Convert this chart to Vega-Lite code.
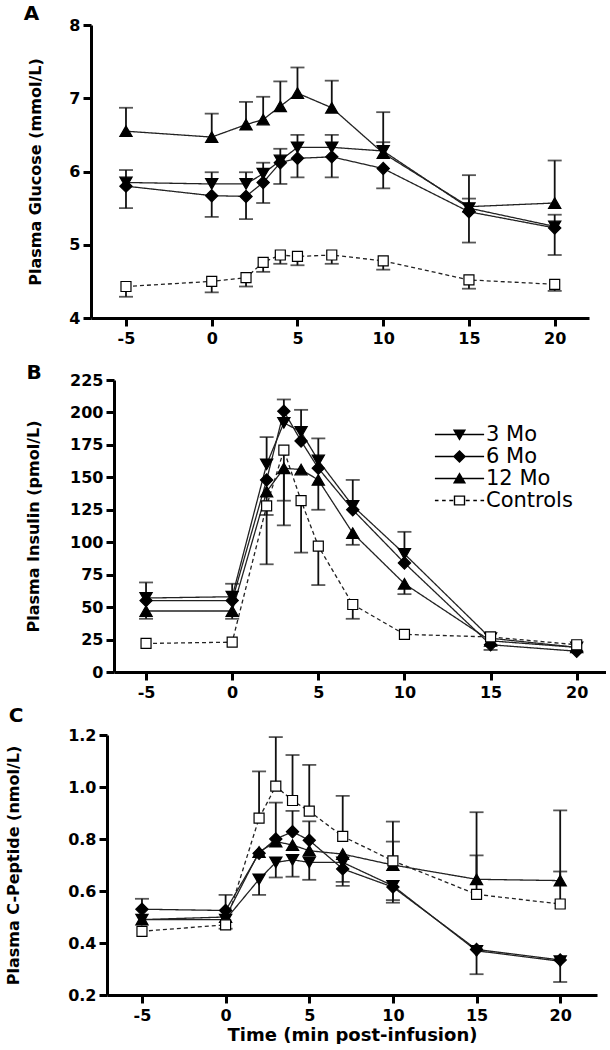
{
  "$schema": "https://vega.github.io/schema/vega-lite/v6.json",
  "padding": {"left": 5, "top": 4, "right": 0, "bottom": 0},
  "background": "white",
  "datasets": {
    "glucose": [
      {"t": -5, "g": "3 Mo", "v": 5.85, "e": 6.02}, {"t": 0, "g": "3 Mo", "v": 5.83, "e": 5.99}, {"t": 2, "g": "3 Mo", "v": 5.83, "e": 5.99}, {"t": 3, "g": "3 Mo", "v": 5.97, "e": 6.12}, {"t": 4, "g": "3 Mo", "v": 6.15, "e": 6.31}, {"t": 5, "g": "3 Mo", "v": 6.33, "e": 6.5}, {"t": 7, "g": "3 Mo", "v": 6.33, "e": 6.5}, {"t": 10, "g": "3 Mo", "v": 6.28, "e": 6.4}, {"t": 15, "g": "3 Mo", "v": 5.5, "e": 5.63}, {"t": 20, "g": "3 Mo", "v": 5.25, "e": 5.41},
      {"t": -5, "g": "6 Mo", "v": 5.8, "e": 5.5}, {"t": 0, "g": "6 Mo", "v": 5.67, "e": 5.38}, {"t": 2, "g": "6 Mo", "v": 5.66, "e": 5.35}, {"t": 3, "g": "6 Mo", "v": 5.85, "e": 5.57}, {"t": 4, "g": "6 Mo", "v": 6.12, "e": 5.83}, {"t": 5, "g": "6 Mo", "v": 6.18, "e": 5.92}, {"t": 7, "g": "6 Mo", "v": 6.2, "e": 5.92}, {"t": 10, "g": "6 Mo", "v": 6.04, "e": 5.77}, {"t": 15, "g": "6 Mo", "v": 5.45, "e": 5.03}, {"t": 20, "g": "6 Mo", "v": 5.23, "e": 4.86},
      {"t": -5, "g": "12 Mo", "v": 6.55, "e": 6.87}, {"t": 0, "g": "12 Mo", "v": 6.47, "e": 6.79}, {"t": 2, "g": "12 Mo", "v": 6.64, "e": 6.95}, {"t": 3, "g": "12 Mo", "v": 6.71, "e": 7.02}, {"t": 4, "g": "12 Mo", "v": 6.89, "e": 7.23}, {"t": 5, "g": "12 Mo", "v": 7.07, "e": 7.42}, {"t": 7, "g": "12 Mo", "v": 6.87, "e": 7.24}, {"t": 10, "g": "12 Mo", "v": 6.25, "e": 6.81}, {"t": 15, "g": "12 Mo", "v": 5.52, "e": 5.95}, {"t": 20, "g": "12 Mo", "v": 5.57, "e": 6.15},
      {"t": -5, "g": "Controls", "v": 4.43, "e": 4.29}, {"t": 0, "g": "Controls", "v": 4.5, "e": 4.35}, {"t": 2, "g": "Controls", "v": 4.55, "e": 4.43}, {"t": 3, "g": "Controls", "v": 4.76, "e": 4.63}, {"t": 4, "g": "Controls", "v": 4.86, "e": 4.74}, {"t": 5, "g": "Controls", "v": 4.84, "e": 4.72}, {"t": 7, "g": "Controls", "v": 4.86, "e": 4.74}, {"t": 10, "g": "Controls", "v": 4.78, "e": 4.66}, {"t": 15, "g": "Controls", "v": 4.52, "e": 4.4}, {"t": 20, "g": "Controls", "v": 4.46, "e": 4.37}
    ],
    "insulin": [
      {"t": -5, "g": "3 Mo", "v": 57, "e": 69}, {"t": 0, "g": "3 Mo", "v": 58, "e": 68}, {"t": 2, "g": "3 Mo", "v": 160, "e": 181}, {"t": 3, "g": "3 Mo", "v": 192, "e": null}, {"t": 4, "g": "3 Mo", "v": 185, "e": 202}, {"t": 5, "g": "3 Mo", "v": 163, "e": 180}, {"t": 7, "g": "3 Mo", "v": 128, "e": 148}, {"t": 10, "g": "3 Mo", "v": 91, "e": 108}, {"t": 15, "g": "3 Mo", "v": 26, "e": null}, {"t": 20, "g": "3 Mo", "v": 19, "e": null},
      {"t": -5, "g": "6 Mo", "v": 55, "e": null}, {"t": 0, "g": "6 Mo", "v": 55, "e": null}, {"t": 2, "g": "6 Mo", "v": 148, "e": null}, {"t": 3, "g": "6 Mo", "v": 201, "e": 210}, {"t": 4, "g": "6 Mo", "v": 178, "e": null}, {"t": 5, "g": "6 Mo", "v": 157, "e": null}, {"t": 7, "g": "6 Mo", "v": 125, "e": null}, {"t": 10, "g": "6 Mo", "v": 84, "e": null}, {"t": 15, "g": "6 Mo", "v": 21, "e": 17}, {"t": 20, "g": "6 Mo", "v": 16, "e": null},
      {"t": -5, "g": "12 Mo", "v": 47, "e": 41}, {"t": 0, "g": "12 Mo", "v": 47, "e": 41}, {"t": 2, "g": "12 Mo", "v": 139, "e": 121}, {"t": 3, "g": "12 Mo", "v": 157, "e": 132}, {"t": 4, "g": "12 Mo", "v": 156, "e": null}, {"t": 5, "g": "12 Mo", "v": 148, "e": 125}, {"t": 7, "g": "12 Mo", "v": 107, "e": 98}, {"t": 10, "g": "12 Mo", "v": 68, "e": 60}, {"t": 15, "g": "12 Mo", "v": 24, "e": null}, {"t": 20, "g": "12 Mo", "v": 19, "e": null},
      {"t": -5, "g": "Controls", "v": 22, "e": null}, {"t": 0, "g": "Controls", "v": 23, "e": null}, {"t": 2, "g": "Controls", "v": 128, "e": 83}, {"t": 3, "g": "Controls", "v": 171, "e": 113}, {"t": 4, "g": "Controls", "v": 132, "e": 92}, {"t": 5, "g": "Controls", "v": 97, "e": 67}, {"t": 7, "g": "Controls", "v": 52, "e": 41}, {"t": 10, "g": "Controls", "v": 29, "e": null}, {"t": 15, "g": "Controls", "v": 27, "e": null}, {"t": 20, "g": "Controls", "v": 21, "e": null}
    ],
    "cpep": [
      {"t": -5, "g": "6 Mo", "v": 0.53, "e": 0.57}, {"t": 0, "g": "6 Mo", "v": 0.525, "e": 0.585}, {"t": 2, "g": "6 Mo", "v": 0.745, "e": null}, {"t": 3, "g": "6 Mo", "v": 0.8, "e": 0.94}, {"t": 4, "g": "6 Mo", "v": 0.828, "e": 0.908}, {"t": 5, "g": "6 Mo", "v": 0.795, "e": null}, {"t": 7, "g": "6 Mo", "v": 0.685, "e": 0.635}, {"t": 10, "g": "6 Mo", "v": 0.615, "e": 0.565}, {"t": 15, "g": "6 Mo", "v": 0.375, "e": null}, {"t": 20, "g": "6 Mo", "v": 0.335, "e": null},
      {"t": -5, "g": "3 Mo", "v": 0.49, "e": null}, {"t": 0, "g": "3 Mo", "v": 0.49, "e": null}, {"t": 2, "g": "3 Mo", "v": 0.645, "e": 0.585}, {"t": 3, "g": "3 Mo", "v": 0.71, "e": 0.652}, {"t": 4, "g": "3 Mo", "v": 0.72, "e": 0.655}, {"t": 5, "g": "3 Mo", "v": 0.71, "e": 0.643}, {"t": 7, "g": "3 Mo", "v": 0.71, "e": 0.62}, {"t": 10, "g": "3 Mo", "v": 0.62, "e": 0.555}, {"t": 15, "g": "3 Mo", "v": 0.37, "e": 0.28}, {"t": 20, "g": "3 Mo", "v": 0.33, "e": 0.25},
      {"t": -5, "g": "12 Mo", "v": 0.49, "e": null}, {"t": 0, "g": "12 Mo", "v": 0.5, "e": null}, {"t": 2, "g": "12 Mo", "v": 0.75, "e": null}, {"t": 3, "g": "12 Mo", "v": 0.79, "e": null}, {"t": 4, "g": "12 Mo", "v": 0.777, "e": null}, {"t": 5, "g": "12 Mo", "v": 0.755, "e": 0.868}, {"t": 7, "g": "12 Mo", "v": 0.742, "e": null}, {"t": 10, "g": "12 Mo", "v": 0.7, "e": 0.867}, {"t": 15, "g": "12 Mo", "v": 0.645, "e": 0.903}, {"t": 20, "g": "12 Mo", "v": 0.64, "e": 0.91},
      {"t": -5, "g": "Controls", "v": 0.445, "e": null}, {"t": 0, "g": "Controls", "v": 0.47, "e": 0.455}, {"t": 2, "g": "Controls", "v": 0.88, "e": 1.06}, {"t": 3, "g": "Controls", "v": 1.003, "e": 1.192}, {"t": 4, "g": "Controls", "v": 0.948, "e": 1.123}, {"t": 5, "g": "Controls", "v": 0.907, "e": 1.085}, {"t": 7, "g": "Controls", "v": 0.81, "e": 0.966}, {"t": 10, "g": "Controls", "v": 0.716, "e": 0.79}, {"t": 15, "g": "Controls", "v": 0.587, "e": 0.737}, {"t": 20, "g": "Controls", "v": 0.55, "e": 0.675}
    ]
  },
  "spacing": 17,
  "resolve": {"scale": {"shape": "independent"}, "legend": {"shape": "independent"}},
  "vconcat": [
    {
      "width": 498, "height": 293,
      "data": {"name": "glucose"},
      "title": {"text": "A", "anchor": "start", "frame": "bounds", "font": "DejaVu Sans", "fontSize": 20, "fontWeight": "bold", "color": "black", "dx": -4, "dy": 11},
      "encoding": {"x": {"field": "t", "type": "quantitative", "scale": {"domain": [-7.04, 22], "nice": false, "zero": false}, "axis": {"values": [-5, 0, 5, 10, 15, 20], "labelExpr": "'' + datum.value", "title": null}}},
      "layer": [
        {"mark": {"type": "line", "strokeWidth": 1.3, "color": "#222"},
         "encoding": {"y": {"field": "v", "type": "quantitative", "title": "Plasma Glucose (mmol/L)", "scale": {"domain": [4, 8], "nice": false, "zero": false}, "axis": {"values": [4, 5, 6, 7, 8], "labelExpr": "'' + datum.value", "titlePadding": 25}},
           "strokeDash": {"condition": {"test": "datum.g === 'Controls'", "value": [4, 3]}, "value": [1, 0]},
           "detail": {"field": "g"}}},
        {"transform": [{"filter": "datum.e != null"}], "mark": {"type": "rule", "strokeWidth": 1.8, "color": "#111"},
         "encoding": {"y": {"field": "v", "type": "quantitative", "title": "Plasma Glucose (mmol/L)", "axis": {"values": [4, 5, 6, 7, 8], "labelExpr": "'' + datum.value", "titlePadding": 25}}, "y2": {"field": "e"}}},
        {"transform": [{"filter": "datum.e != null"}], "mark": {"type": "tick", "orient": "horizontal", "size": 14, "thickness": 1.8, "color": "#111"},
         "encoding": {"y": {"field": "e", "type": "quantitative", "title": "Plasma Glucose (mmol/L)", "axis": {"values": [4, 5, 6, 7, 8], "labelExpr": "'' + datum.value", "titlePadding": 25}}}},
        {"mark": {"type": "point", "filled": true, "stroke": "#000", "strokeWidth": 1.2, "opacity": 1},
         "encoding": {"y": {"field": "v", "type": "quantitative", "title": "Plasma Glucose (mmol/L)", "axis": {"values": [4, 5, 6, 7, 8], "labelExpr": "'' + datum.value", "titlePadding": 25}},
           "shape": {"condition": [{"test": "datum.g === '3 Mo'", "value": "triangle-down"}, {"test": "datum.g === '6 Mo'", "value": "diamond"}, {"test": "datum.g === '12 Mo'", "value": "triangle-up"}], "value": "square"},
           "size": {"condition": {"test": "datum.g === 'Controls'", "value": 100}, "value": 150},
           "fill": {"condition": {"test": "datum.g === 'Controls'", "value": "white"}, "value": "black"}}}
      ]
    },
    {
      "spacing": 6,
      "resolve": {"scale": {"shape": "independent"}, "legend": {"shape": "independent"}},
      "vconcat": [
        {
          "width": 515, "height": 292,
          "data": {"name": "insulin"},
          "title": {"text": "B", "anchor": "start", "frame": "bounds", "font": "DejaVu Sans", "fontSize": 20, "fontWeight": "bold", "color": "black", "dx": 1, "dy": 15},
          "encoding": {"x": {"field": "t", "type": "quantitative", "scale": {"domain": [-6.86, 21.7], "range": [23, 515], "nice": false, "zero": false}, "axis": {"values": [-5, 0, 5, 10, 15, 20], "labelExpr": "'' + datum.value", "title": null}}},
          "layer": [
            {"mark": {"type": "line", "strokeWidth": 1.3, "color": "#222"},
             "encoding": {"y": {"field": "v", "type": "quantitative", "title": "Plasma Insulin (pmol/L)", "scale": {"domain": [0, 225], "nice": false, "zero": false}, "axis": {"values": [0, 25, 50, 75, 100, 125, 150, 175, 200, 225], "labelExpr": "'' + datum.value", "titlePadding": 28, "offset": -23}},
               "strokeDash": {"condition": {"test": "datum.g === 'Controls'", "value": [4, 3]}, "value": [1, 0]},
               "detail": {"field": "g"}}},
            {"transform": [{"filter": "datum.e != null"}], "mark": {"type": "rule", "strokeWidth": 1.8, "color": "#111"},
             "encoding": {"y": {"field": "v", "type": "quantitative", "title": "Plasma Insulin (pmol/L)", "axis": {"values": [0, 25, 50, 75, 100, 125, 150, 175, 200, 225], "labelExpr": "'' + datum.value", "titlePadding": 28, "offset": -23}}, "y2": {"field": "e"}}},
            {"transform": [{"filter": "datum.e != null"}], "mark": {"type": "tick", "orient": "horizontal", "size": 14, "thickness": 1.8, "color": "#111"},
             "encoding": {"y": {"field": "e", "type": "quantitative", "title": "Plasma Insulin (pmol/L)", "axis": {"values": [0, 25, 50, 75, 100, 125, 150, 175, 200, 225], "labelExpr": "'' + datum.value", "titlePadding": 28, "offset": -23}}}},
            {"mark": {"type": "point", "filled": true, "stroke": "#000", "strokeWidth": 1.2, "opacity": 1},
             "encoding": {"y": {"field": "v", "type": "quantitative", "title": "Plasma Insulin (pmol/L)", "axis": {"values": [0, 25, 50, 75, 100, 125, 150, 175, 200, 225], "labelExpr": "'' + datum.value", "titlePadding": 28, "offset": -23}},
               "shape": {"condition": [{"test": "datum.g === '3 Mo'", "value": "triangle-down"}, {"test": "datum.g === '6 Mo'", "value": "diamond"}, {"test": "datum.g === '12 Mo'", "value": "triangle-up"}], "value": "square"},
               "size": {"condition": {"test": "datum.g === 'Controls'", "value": 100}, "value": 150},
               "fill": {"condition": {"test": "datum.g === 'Controls'", "value": "white"}, "value": "black"}}},
            {"data": {"values": []},
             "mark": {"type": "point", "filled": true, "color": "black", "opacity": 1, "size": 144},
             "encoding": {
               "shape": {"field": "g", "type": "nominal",
                 "scale": {"domain": ["3 Mo", "6 Mo", "12 Mo", "Controls"], "range": [
                   "M-4.1,-0.11H4.1V0.11H-4.1ZM-1.1,-0.85L1.1,-0.85L0,1.05Z",
                   "M-4.1,-0.11H4.1V0.11H-4.1ZM-1.1,0L0,-1.1L1.1,0L0,1.1Z",
                   "M-4.1,-0.11H4.1V0.11H-4.1ZM-1.1,0.85L0,-1.05L1.1,0.85Z",
                   "M-4.1,-0.11H-3.5V0.11H-4.1ZM-2.9,-0.11H-2.3V0.11H-2.9ZM-1.7,-0.11H-1.05V0.11H-1.7ZM1.05,-0.11H1.7V0.11H1.05ZM2.3,-0.11H2.9V0.11H2.3ZM3.5,-0.11H4.1V0.11H3.5ZM-0.95,-0.85H0.95V0.85H-0.95ZM-0.72,-0.62V0.62H0.72V-0.62Z"]},
                 "legend": {"title": null, "orient": "none", "legendX": 358, "legendY": 44, "padding": 0, "symbolSize": 144, "symbolFillColor": "black", "symbolOpacity": 1, "labelFont": "DejaVu Sans", "labelFontSize": 21, "labelFontWeight": "normal", "labelColor": "black", "labelOffset": 16, "rowPadding": 0}}}}
          ]
        },
        {
          "width": 506, "height": 260,
          "data": {"name": "cpep"},
          "title": {"text": "C", "anchor": "start", "frame": "bounds", "font": "DejaVu Sans", "fontSize": 20, "fontWeight": "bold", "color": "black", "dx": 3, "dy": 3},
          "encoding": {"x": {"field": "t", "type": "quantitative", "scale": {"domain": [-7.09, 22.2], "range": [16, 506], "nice": false, "zero": false}, "axis": {"values": [-5, 0, 5, 10, 15, 20], "labelExpr": "'' + datum.value", "title": "Time (min post-infusion)", "titleFontSize": 18, "titlePadding": 3}}},
          "layer": [
            {"mark": {"type": "line", "strokeWidth": 1.3, "color": "#222"},
             "encoding": {"y": {"field": "v", "type": "quantitative", "title": "Plasma C-Peptide (nmol/L)", "scale": {"domain": [0.2, 1.2], "nice": false, "zero": false}, "axis": {"values": [0.2, 0.4, 0.6, 0.8, 1.0, 1.2], "format": ".1f", "titlePadding": 46, "offset": -16}},
               "strokeDash": {"condition": {"test": "datum.g === 'Controls'", "value": [4, 3]}, "value": [1, 0]},
               "detail": {"field": "g"}}},
            {"transform": [{"filter": "datum.e != null"}], "mark": {"type": "rule", "strokeWidth": 1.8, "color": "#111"},
             "encoding": {"y": {"field": "v", "type": "quantitative", "title": "Plasma C-Peptide (nmol/L)", "axis": {"values": [0.2, 0.4, 0.6, 0.8, 1.0, 1.2], "format": ".1f", "titlePadding": 46, "offset": -16}}, "y2": {"field": "e"}}},
            {"transform": [{"filter": "datum.e != null"}], "mark": {"type": "tick", "orient": "horizontal", "size": 14, "thickness": 1.8, "color": "#111"},
             "encoding": {"y": {"field": "e", "type": "quantitative", "title": "Plasma C-Peptide (nmol/L)", "axis": {"values": [0.2, 0.4, 0.6, 0.8, 1.0, 1.2], "format": ".1f", "titlePadding": 46, "offset": -16}}}},
            {"mark": {"type": "point", "filled": true, "stroke": "#000", "strokeWidth": 1.2, "opacity": 1},
             "encoding": {"y": {"field": "v", "type": "quantitative", "title": "Plasma C-Peptide (nmol/L)", "axis": {"values": [0.2, 0.4, 0.6, 0.8, 1.0, 1.2], "format": ".1f", "titlePadding": 46, "offset": -16}},
               "shape": {"condition": [{"test": "datum.g === '3 Mo'", "value": "triangle-down"}, {"test": "datum.g === '6 Mo'", "value": "diamond"}, {"test": "datum.g === '12 Mo'", "value": "triangle-up"}], "value": "square"},
               "size": {"condition": {"test": "datum.g === 'Controls'", "value": 100}, "value": 150},
               "fill": {"condition": {"test": "datum.g === 'Controls'", "value": "white"}, "value": "black"}}}
          ]
        }
      ]
    }
  ],
  "config": {
    "view": {"stroke": null},
    "axis": {"grid": false, "domainColor": "black", "domainWidth": 3, "tickColor": "black", "tickWidth": 3, "tickSize": 8, "labelFont": "DejaVu Sans", "labelFontWeight": "bold", "labelFontSize": 16, "labelColor": "black", "labelPadding": 3, "titleFont": "DejaVu Sans", "titleFontWeight": "bold", "titleFontSize": 16, "titleColor": "black"},
    "axisX": {"labelPadding": 4}
  }
}
